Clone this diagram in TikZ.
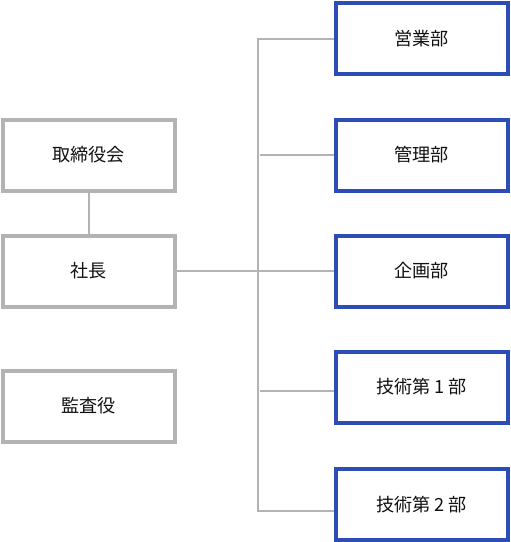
\documentclass[tikz,border=0pt]{standalone}
\usepackage{fontspec}
\usetikzlibrary{backgrounds}
\newfontfamily\jp{Noto Sans CJK JP}
\definecolor{linegray}{HTML}{B3B3B3}
\definecolor{deptblue}{HTML}{2C4DB5}
\definecolor{txt}{HTML}{111111}
\begin{document}
\begin{tikzpicture}[x=0.75pt,y=-0.75pt,
  conn/.style={draw=linegray,line width=1.5pt},
  boxtext/.style={inner sep=0pt,font=\jp\fontsize{13.6pt}{15pt}\selectfont,text=txt},
  graybox/.style={boxtext,draw=linegray,line width=3pt,fill=white,minimum width=128.8pt,minimum height=53.25pt},
  bluebox/.style={boxtext,draw=deptblue,line width=3pt,fill=white,minimum width=129pt,minimum height=53.25pt}]
\useasboundingbox (0,0) rectangle (510,542);
\coordinate (tt) at (257.7,39);
\coordinate (tb) at (257.7,510.7);
\coordinate (b2) at (260,155);
\coordinate (b4) at (260,390.7);
\node[graybox] (torishimari) at (88.85,155) {取締役会};
\node[graybox] (shacho) at (88.85,271) {社長};
\node[graybox] (kansa) at (88.85,406) {監査役};
\node[bluebox] (eigyo) at (421.5,39) {営業部};
\node[bluebox] (kanri) at (421.5,155) {管理部};
\node[bluebox] (kikaku) at (421.5,271) {企画部};
\node[bluebox] (gijutsu1) at (421.5,387) {技術第 1 部};
\node[bluebox] (gijutsu2) at (421.5,504.2) {技術第 2 部};
\begin{pgfonlayer}{background}
\fill[white] (0,0) rectangle (510,542);
\draw[conn] (torishimari.south) -- (shacho.north);
\draw[conn] (shacho.east) -- (kikaku.west);
\draw[conn] (eigyo.west) -- (tt) -- (tb) -- (gijutsu2.west |- tb);
\draw[conn] (b2) -- (kanri.west);
\draw[conn] (b4) -- (gijutsu1.west |- b4);
\end{pgfonlayer}
\end{tikzpicture}
\end{document}
